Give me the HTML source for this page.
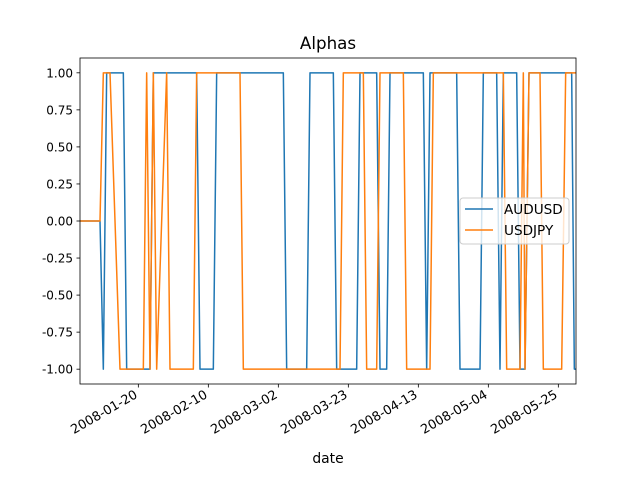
<!DOCTYPE html>
<html><head><meta charset="utf-8"><style>
body{margin:0;background:#fff}
svg{display:block;font-family:"DejaVu Sans","Liberation Sans",sans-serif}
</style></head><body>
<svg id="chart" width="640" height="480">
<rect width="640" height="480" fill="#fff"/>
<text x="328" y="49" font-size="16.7" text-anchor="middle">Alphas</text>
<g id="plot"></g>
<g id="axes"></g>
<text x="328" y="463" font-size="13.9" text-anchor="middle">date</text>
<g>
<rect x="460" y="198" width="109" height="46" rx="3" fill="#fff" fill-opacity="0.8" stroke="#ccc"/>
<line x1="465" y1="209" x2="493" y2="209" stroke="#1f77b4" stroke-width="1.5"/>
<text x="504" y="214" font-size="13.6">AUDUSD</text>
<line x1="465" y1="230" x2="493" y2="230" stroke="#ff7f0e" stroke-width="1.5"/>
<text x="504" y="235" font-size="13.6">USDJPY</text>
</g>
</svg>
<script>
// day offsets from 2008-01-02 12:00
const audDays = [0,6,7,8,13,14,21,22,35,36,40,41,61,62,68,69,76,77,83,84,89,90,92,93,103,104,105,113,114,120,121,125,126,127,131,132,133.5,134.7,147.5,148.3,148.8];
const audVals = [0,0,-1,1,1,-1,-1,1,1,-1,-1,1,1,-1,-1,1,1,-1,-1,1,1,-1,-1,1,1,-1,1,1,-1,-1,1,1,-1,1,1,-1,-1,1,1,-1,-1];
const jpyDays = [0,6,7,9,12,19,20,21,22,23,26,27,34,35,48,49,78,79,85,86,89,90,97,98,105,106,127,128,132,133,133.5,134.7,138,139,144.5,145.7,148.8];
const jpyVals = [0,0,1,1,-1,-1,1,-1,1,-1,1,-1,-1,1,1,-1,-1,1,1,-1,-1,1,1,-1,-1,1,1,-1,-1,1,-1,1,1,-1,-1,1,1];
const xTickLabels = ["2008-01-20","2008-02-10","2008-03-02","2008-03-23","2008-04-13","2008-05-04","2008-05-25"];
const yTickValues = [-1,-0.75,-0.5,-0.25,0,0.25,0.5,0.75,1];

const L=80,R=576,T=58,B=384,dayMax=148.8;
const origin=Date.UTC(2008,0,2,12);
function xs(d){return L+d*(R-L)/dayMax;}
function ys(v){return B-(v+1.1)*(B-T)/2.2;}
const NS="http://www.w3.org/2000/svg";
const plot=document.getElementById('plot'),axes=document.getElementById('axes');
function mk(tag,attrs,parent){const e=document.createElementNS(NS,tag);for(const k in attrs)e.setAttribute(k,attrs[k]);parent.appendChild(e);return e;}
function series(days,vals,color,name){
  const pts=days.map((d,i)=>xs(d).toFixed(2)+','+ys(vals[i]).toFixed(2)).join(' ');
  const p=mk('polyline',{points:pts,fill:'none',stroke:color,'stroke-width':1.5,'stroke-linejoin':'round'},plot);
  
  
}
series(audDays,audVals,'#1f77b4','line-audusd');
series(jpyDays,jpyVals,'#ff7f0e','line-usdjpy');
const frame=mk('rect',{x:L,y:T,width:R-L,height:B-T,fill:'none',stroke:'#000','stroke-width':0.8},axes);


yTickValues.forEach(v=>{
  const y=ys(v);
  const t=mk('line',{x1:L-3.5,x2:L,y1:y,y2:y,stroke:'#000','stroke-width':0.8},axes);
  
  
  const tx=mk('text',{x:L-7,y:y+4.5,'font-size':12,'text-anchor':'end'},axes);
  tx.textContent=v.toFixed(2);
  
  
});
xTickLabels.forEach(s=>{
  const p=s.split('-').map(Number);
  const d=(Date.UTC(p[0],p[1]-1,p[2])-origin)/86400000;
  const x=xs(d);
  const t=mk('line',{x1:x,x2:x,y1:B,y2:B+3.5,stroke:'#000','stroke-width':0.8},axes);
  
  
  const ax=x, ay=B+13;
  const tx=mk('text',{x:ax,y:ay,'font-size':12.8,'text-anchor':'end',transform:`rotate(-30 ${ax} ${ay})`},axes);
  tx.textContent=s;
  
  
});
</script>
</body></html>
